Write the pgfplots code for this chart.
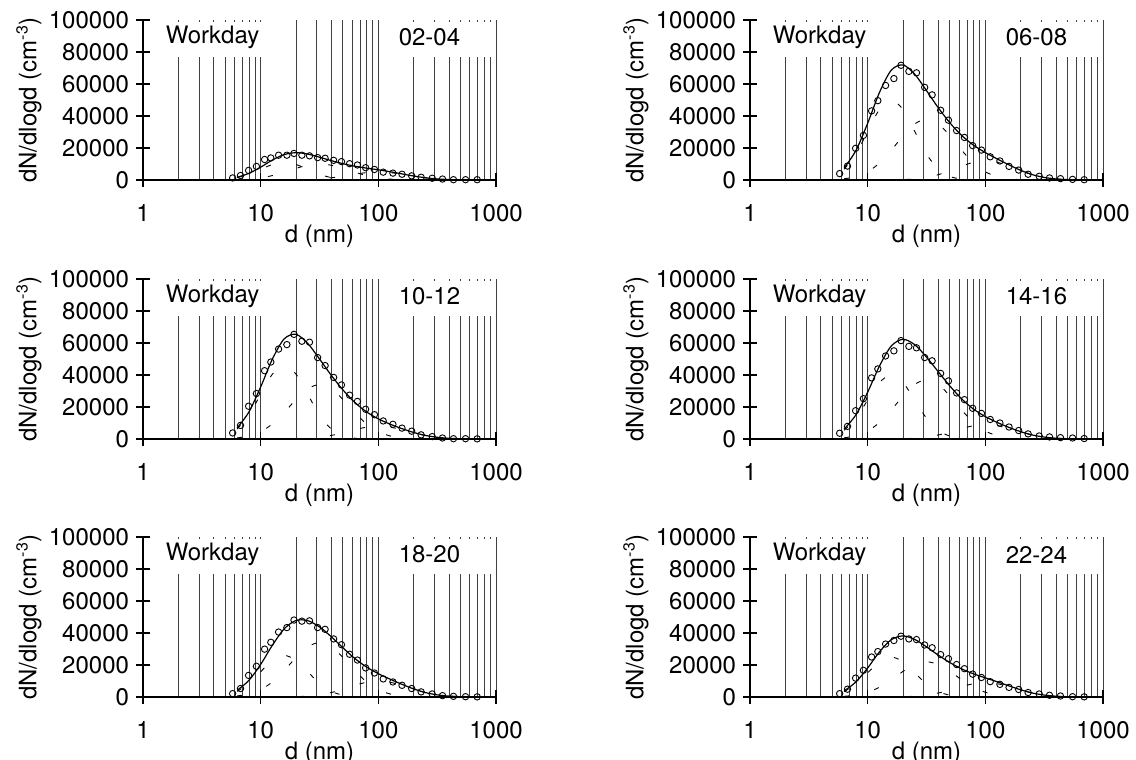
\documentclass[border=0pt]{standalone}
\usepackage{fontspec}
\setmainfont{TeX Gyre Heros}
\usepackage{pgfplots}
\usepackage{pgfplotstable}
\pgfplotsset{compat=1.18}
\pgfkeys{/pgf/number format/assume math mode=true}

% measured size distributions (d in nm, dN/dlogd in cm^-3)
\pgfplotstableread{
d y
5.78 1300
6.74 2800
7.90 6000
9.20 8500
10.8 12800
12.2 13800
14.2 15500
16.7 15500
19.2 16600
22.4 15500
26.0 15100
30.5 14000
35.3 13600
41.7 12300
48.6 11500
57.0 10200
66.4 9400
78.0 7700
92.7 6600
110 4900
133 4300
159 3600
192 2600
231 1700
287 1100
351 600
435 200
551 200
692 200
}\dataA
\pgfplotstableread{
d y
5.78 4000
6.74 8700
7.90 19800
9.20 27900
10.8 43200
12.2 49600
14.2 59100
16.7 63400
19.2 71700
22.4 67900
26.0 67000
30.5 57900
35.3 53200
41.7 43600
48.6 37400
57.0 30900
66.4 26600
78.0 21500
92.7 18700
110 14500
133 11900
159 8500
192 6200
231 3600
287 2300
351 1300
435 850
551 400
692 200
}\dataB
\pgfplotstableread{
d y
5.78 3800
6.74 8500
7.90 20500
9.20 28400
10.8 42700
12.2 48100
14.2 56200
16.7 59000
19.2 65400
22.4 61100
26.0 60500
30.5 50900
35.3 45900
41.7 38500
48.6 33800
57.0 27400
66.4 23500
78.0 18600
92.7 15200
110 11300
133 9200
159 6800
192 4900
231 2600
287 1500
351 640
435 200
551 200
692 100
}\dataC
\pgfplotstableread{
d y
5.78 3600
6.74 7900
7.90 17700
9.20 25200
10.8 38200
12.2 43800
14.2 51900
16.7 55100
19.2 61500
22.4 57900
26.0 57000
30.5 50900
35.3 48900
41.7 41000
48.6 36300
57.0 28800
66.4 24600
78.0 19200
92.7 16000
110 12200
133 10000
159 7500
192 5300
231 3200
287 1900
351 1300
435 850
551 640
692 300
}\dataD
\pgfplotstableread{
d y
5.78 2100
6.74 5300
7.90 13500
9.20 19200
10.8 29900
12.2 34200
14.2 40600
16.7 43400
19.2 48100
22.4 47400
26.0 47600
30.5 43400
35.3 42300
41.7 36300
48.6 32700
57.0 26700
66.4 23100
78.0 18200
92.7 15000
110 11300
133 9400
159 7300
192 5300
231 3200
287 1900
351 850
435 430
551 200
692 100
}\dataE
\pgfplotstableread{
d y
5.78 2100
6.74 4900
7.90 11800
9.20 16700
10.8 25000
12.2 28400
14.2 33100
16.7 35300
19.2 38000
22.4 36300
26.0 35900
30.5 32500
35.3 30800
41.7 26500
48.6 23900
57.0 20300
66.4 17700
78.0 14300
92.7 12200
110 9600
133 7900
159 6000
192 4700
231 2800
287 1900
351 1100
435 640
551 200
692 100
}\dataF

% fitted modes and their sum
\pgfplotstableread{
d m1 m2 m3 fit
6.31 1485 200 0 1685
7.94 3575 560 0 4135
10 6677 1350 0 8027
12.59 9702 2780 0 12482
15.85 11000 4870 30 15900
19.95 9702 7260 100 17062
25.12 6677 9230 280 16187
31.62 3575 10000 675 14250
39.81 1485 9230 1390 12105
50.12 484 7260 2435 10179
63.10 121 4870 3630 8621
79.43 22 2780 4615 7417
100 0 1350 5000 6350
125.9 0 560 4615 5175
158.5 0 200 3630 3830
199.5 0 60 2435 2495
251.2 0 0 1390 1390
316.2 0 0 675 675
398.1 0 0 280 280
501.2 0 0 100 100
631.0 0 0 30 30
}\modelA
\pgfplotstableread{
d m1 m2 m3 fit
6.31 6750 760 0 7510
7.94 16250 2128 0 18378
10 30350 5130 0 35480
12.59 44100 10564 0 54664
15.85 50000 18506 72 68578
19.95 44100 27588 240 71928
25.12 30350 35074 672 66096
31.62 16250 38000 1620 55870
39.81 6750 35074 3336 45160
50.12 2200 27588 5844 35632
63.10 550 18506 8712 27768
79.43 100 10564 11076 21740
100 0 5130 12000 17130
125.9 0 2128 11076 13204
158.5 0 760 8712 9472
199.5 0 228 5844 6072
251.2 0 0 3336 3336
316.2 0 0 1620 1620
398.1 0 0 672 672
501.2 0 0 240 240
631.0 0 0 72 72
}\modelB
\pgfplotstableread{
d m1 m2 m3 fit
6.31 6210 680 0 6890
7.94 14950 1904 0 16854
10 27922 4590 0 32512
12.59 40572 9452 0 50024
15.85 46000 16558 48 62606
19.95 40572 24684 160 65416
25.12 27922 31382 448 59752
31.62 14950 34000 1080 50030
39.81 6210 31382 2224 39816
50.12 2024 24684 3896 30604
63.10 506 16558 5808 22872
79.43 92 9452 7384 16928
100 0 4590 8000 12590
125.9 0 1904 7384 9288
158.5 0 680 5808 6488
199.5 0 204 3896 4100
251.2 0 0 2224 2224
316.2 0 0 1080 1080
398.1 0 0 448 448
501.2 0 0 160 160
631.0 0 0 48 48
}\modelC
\pgfplotstableread{
d m1 m2 m3 fit
6.31 5400 740 0 6140
7.94 13000 2072 0 15072
10 24280 4995 0 29275
12.59 35280 10286 0 45566
15.85 40000 18019 54 58073
19.95 35280 26862 180 62322
25.12 24280 34151 504 58935
31.62 13000 37000 1215 51215
39.81 5400 34151 2502 42053
50.12 1760 26862 4383 33005
63.10 440 18019 6534 24993
79.43 80 10286 8307 18673
100 0 4995 9000 13995
125.9 0 2072 8307 10379
158.5 0 740 6534 7274
199.5 0 222 4383 4605
251.2 0 0 2502 2502
316.2 0 0 1215 1215
398.1 0 0 504 504
501.2 0 0 180 180
631.0 0 0 54 54
}\modelD
\pgfplotstableread{
d m1 m2 m3 fit
6.31 3510 680 0 4190
7.94 8450 1904 0 10354
10 15782 4590 0 20372
12.59 22932 9452 0 32384
15.85 26000 16558 60 42618
19.95 22932 24684 200 47816
25.12 15782 31382 560 47724
31.62 8450 34000 1350 43800
39.81 3510 31382 2780 37672
50.12 1144 24684 4870 30698
63.10 286 16558 7260 24104
79.43 52 9452 9230 18734
100 0 4590 10000 14590
125.9 0 1904 9230 11134
158.5 0 680 7260 7940
199.5 0 204 4870 5074
251.2 0 0 2780 2780
316.2 0 0 1350 1350
398.1 0 0 560 560
501.2 0 0 200 200
631.0 0 0 60 60
}\modelE
\pgfplotstableread{
d m1 m2 m3 fit
6.31 3375 440 0 3815
7.94 8125 1232 0 9357
10 15175 2970 0 18145
12.59 22050 6116 0 28166
15.85 25000 10714 54 35768
19.95 22050 15972 180 38202
25.12 15175 20306 504 35985
31.62 8125 22000 1215 31340
39.81 3375 20306 2502 26183
50.12 1100 15972 4383 21455
63.10 275 10714 6534 17523
79.43 50 6116 8307 14473
100 0 2970 9000 11970
125.9 0 1232 8307 9539
158.5 0 440 6534 6974
199.5 0 132 4383 4515
251.2 0 0 2502 2502
316.2 0 0 1215 1215
398.1 0 0 504 504
501.2 0 0 180 180
631.0 0 0 54 54
}\modelF

\tikzset{
  mymode/.style={black, line width=0.45pt, smooth, dash pattern=on 2.5pt off 13pt},
  myfit/.style={black, line width=0.6pt, smooth},
}
\newcommand{\lf}{\fontsize{12}{14}\selectfont}

\newcommand{\drawpanel}[4]{%
  \begin{axis}[xmode=log, at={#1}, anchor=south west,
    scale only axis, width=176.5pt, height=80pt,
    xmin=1, xmax=1000, ymin=0, ymax=100000,
    xtick={1,10,100,1000}, xticklabels={1,10,100,1000},
    minor xtick={2,3,4,5,6,7,8,9,20,30,40,50,60,70,80,90,200,300,400,500,600,700,800,900},
    ytick={0,20000,40000,60000,80000,100000},
    scaled y ticks=false,
    yticklabel style={/pgf/number format/fixed, /pgf/number format/1000 sep={}, font=\lf},
    xticklabel style={font=\lf, yshift=-5pt},
    axis lines*=left,
    axis line style={black, line width=0.6pt, -},
    xmajorgrids, xminorgrids,
    major grid style={black!75, line width=0.5pt},
    minor grid style={black!75, line width=0.5pt},
    tick align=center, major tick length=7pt, minor tick length=0pt,
    tick style={black, line width=0.6pt},
    xlabel={d (nm)},
    ylabel={dN/dlogd (cm\textsuperscript{-3})},
    every axis x label/.style={at={(axis description cs:0.5,-0.35)}, anchor=center, font=\lf},
    every axis y label/.style={at={(axis description cs:-0.323,0.5)}, rotate=90, anchor=center, font=\lf},
    clip=false]
    \addplot[mymode] table[x=d,y=m1]{#2};
    \addplot[mymode] table[x=d,y=m2]{#2};
    \addplot[mymode] table[x=d,y=m3]{#2};
    \addplot[myfit] table[x=d,y=fit]{#2};
    \addplot[only marks, mark=o, mark size=1.6pt, mark options={fill=white, draw=black, line width=0.45pt}] table[x=d,y=y]{#3};
    \fill[white] (axis cs:1.5,77000) rectangle (axis cs:10.6,99000);
    \fill[white] (axis cs:140,77000) rectangle (axis cs:985,99000);
    \node[font=\lf] at (axis cs:3.9,89000) {Workday};
    \node[font=\lf] at (axis cs:272,89000) {#4};
  \end{axis}}

\begin{document}
\begin{tikzpicture}
\useasboundingbox (0,0) rectangle (568pt,-380pt);
\drawpanel{(71.5pt,-90pt)}{\modelA}{\dataA}{02-04}
\drawpanel{(375pt,-90pt)}{\modelB}{\dataB}{06-08}
\drawpanel{(71.5pt,-219.5pt)}{\modelC}{\dataC}{10-12}
\drawpanel{(375pt,-219.5pt)}{\modelD}{\dataD}{14-16}
\drawpanel{(71.5pt,-348.5pt)}{\modelE}{\dataE}{18-20}
\drawpanel{(375pt,-348.5pt)}{\modelF}{\dataF}{22-24}
\end{tikzpicture}
\end{document}
